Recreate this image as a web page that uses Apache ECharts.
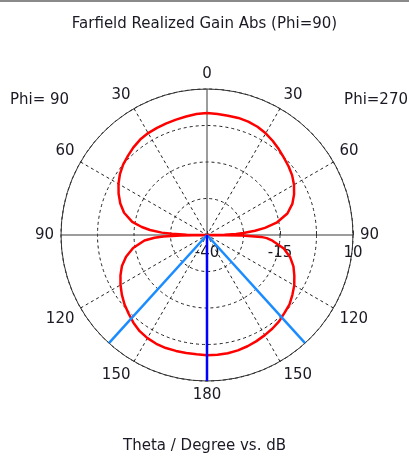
<!DOCTYPE html>
<html><head><meta charset="utf-8">
<script src="https://cdn.jsdelivr.net/npm/echarts@6/dist/echarts.min.js"></script>
<style>html,body{margin:0;padding:0;background:#fff}#c{width:409px;height:456px}</style>
</head><body><div id="c"></div>
<script>
// Theta (deg) sample points, shared by both half-cuts
const thetaDeg = [0,5,10,15,20,25,30,35,40,45,50,55,60,65,70,75,80,83,85,87,88,89,90,91,92,93,95,100,105,110,115,120,125,130,135,140,145,150,155,160,165,170,175,180];
// Realized gain (dB) on the Phi=90 half (left side of the plot)
const gainPhi90 = [1.8,1.6,1.2,0.9,0.7,0.5,0.3,-0.1,-0.8,-1.7,-2.5,-3.6,-5.0,-6.6,-8.4,-10.6,-14.0,-17.5,-20.4,-24.5,-28,-33,-40,-31,-25,-22,-18.5,-14.3,-11.3,-9.0,-7.3,-5.8,-4.4,-3.1,-2.0,-0.8,0.2,0.8,1.1,1.2,1.1,1.0,1.0,1.2];
// Realized gain (dB) on the Phi=270 half (right side of the plot)
const gainPhi270 = [1.8,1.6,1.5,1.5,1.3,0.9,0.2,-0.7,-1.7,-2.7,-3.5,-4.4,-5.6,-7.1,-8.9,-11.5,-15.8,-20,-23.5,-27.5,-30,-34,-40,-28,-21.5,-19.5,-17.5,-13.3,-10.5,-8.5,-7.0,-5.5,-4.3,-3.1,-2.4,-1.5,-0.9,-0.4,0.1,0.55,0.9,1.1,1.2,1.2];
// Radial scale (dB) and labelled ticks
const radialMin = -40, radialMax = 10, radialStep = 12.5;
const radialLabels = [-40, -15, 10];
// Main lobe direction and 3 dB half-power directions (theta, deg)
const mainLobeTheta = 180;
const halfPowerThetaPhi90 = 137.8;
const halfPowerThetaPhi270 = 137.8;
// Text
const titleText = 'Farfield Realized Gain Abs (Phi=90)';
const xLabelText = 'Theta / Degree vs. dB';
const leftCutLabel = 'Phi= 90';
const rightCutLabel = 'Phi=270';

const FONT = 'DejaVu Sans';
const TXT = '#1a1a24';

// angle value: Phi=90 side -> +theta, Phi=270 side -> -theta
const curve = [];
thetaDeg.forEach((t, i) => curve.push([Math.max(gainPhi90[i], radialMin), t]));
for (let i = thetaDeg.length - 1; i >= 0; i--) curve.push([Math.max(gainPhi270[i], radialMin), -thetaDeg[i]]);

const ray = (ang) => [[radialMin, ang], [radialMax, ang]];

const center = [207, 235], radius = 146;
const ts = {fontFamily: FONT, fontSize: 15, fontWeight: 'normal', color: TXT};

const chart = echarts.init(document.getElementById('c'), null, {renderer: 'canvas'});
chart.setOption({
  animation: false,
  backgroundColor: '#fff',
  title: [
    {text: titleText, left: 'center', top: 17, padding: 0, textStyle: ts},
    {text: xLabelText, left: 'center', top: 439, padding: 0, textStyle: ts},
    {text: leftCutLabel, left: 10, top: 93, padding: 0, textStyle: ts},
    {text: rightCutLabel, right: 1, top: 93, padding: 0, textStyle: ts}
  ],
  graphic: [{type: 'rect', left: 0, top: 0, shape: {width: 409, height: 2}, style: {fill: '#8a8a8a'}}],
  polar: [{center: center, radius: radius}, {center: center, radius: radius}],
  angleAxis: [{
    polarIndex: 0, type: 'value', min: -90, max: 270, interval: 30, startAngle: 0, clockwise: false,
    axisLine: {show: true, lineStyle: {color: '#333', width: 1}},
    axisTick: {show: false},
    axisLabel: {show: true, margin: 7, fontFamily: FONT, fontSize: 15, color: TXT,
      formatter: v => (v === 270 ? '' : String(v < 0 ? -v : (v > 180 ? 360 - v : v)))},
    splitLine: {show: true, lineStyle: {color: ['transparent', '#222', '#222'], type: [3, 3], width: 1}}
  }, {
    polarIndex: 1, type: 'value', min: -90, max: 270, interval: 90, startAngle: 0, clockwise: false,
    axisLine: {show: false}, axisTick: {show: false}, axisLabel: {show: false},
    splitLine: {show: true, lineStyle: {color: '#3a3a3a', width: 1, type: 'solid'}}
  }],
  radiusAxis: [{
    polarIndex: 0, type: 'value', min: radialMin, max: radialMax, interval: radialStep,
    axisLine: {show: false},
    axisTick: {show: true, length: 4, lineStyle: {color: '#333'}},
    axisLabel: {show: true, margin: -11, verticalAlign: 'top', fontFamily: FONT, fontSize: 15, color: TXT,
      formatter: v => (radialLabels.indexOf(v) >= 0 ? String(v) : '')},
    splitLine: {show: true, lineStyle: {color: '#222', type: [3, 3], width: 1}}
  }, {
    polarIndex: 1, type: 'value', min: radialMin, max: radialMax,
    axisLine: {show: false}, axisTick: {show: false}, axisLabel: {show: false}, splitLine: {show: false}
  }],
  series: [
    {type: 'line', coordinateSystem: 'polar', polarIndex: 0, data: curve, showSymbol: false, clip: false,
      lineStyle: {color: '#ff0000', width: 2.5}, z: 3},
    {type: 'line', coordinateSystem: 'polar', polarIndex: 0, data: ray(halfPowerThetaPhi90), showSymbol: false, clip: false,
      lineStyle: {color: '#1a8cff', width: 2.5}, z: 4},
    {type: 'line', coordinateSystem: 'polar', polarIndex: 0, data: ray(-halfPowerThetaPhi270), showSymbol: false, clip: false,
      lineStyle: {color: '#1a8cff', width: 2.5}, z: 4},
    {type: 'line', coordinateSystem: 'polar', polarIndex: 0, data: ray(mainLobeTheta), showSymbol: false, clip: false,
      lineStyle: {color: '#0000ff', width: 2.5}, z: 5}
  ]
});
</script></body></html>
